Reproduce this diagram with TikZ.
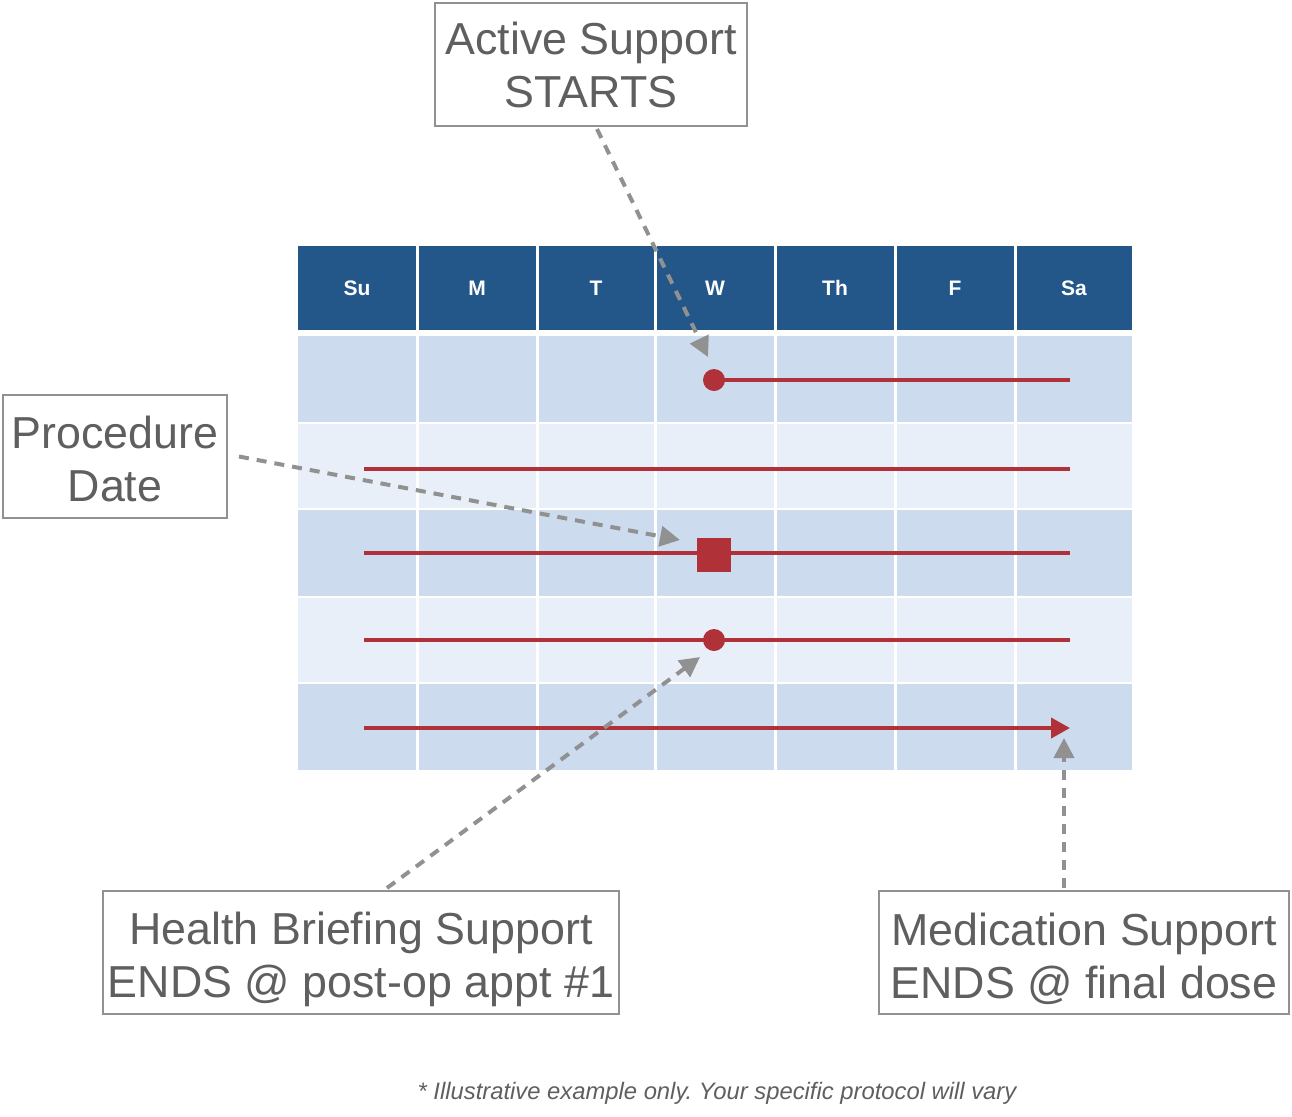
\documentclass[tikz,border=0pt]{standalone}
\usepackage{fontspec}
\setmainfont{Liberation Sans}
\usetikzlibrary{arrows.meta}
\definecolor{hdr}{RGB}{35,87,138}
\definecolor{rowdark}{RGB}{204,219,237}
\definecolor{rowlight}{RGB}{232,239,248}
\definecolor{redc}{RGB}{176,49,55}
\definecolor{grayc}{RGB}{145,145,145}
\definecolor{txtc}{RGB}{95,95,95}
\frenchspacing
\begin{document}
\begin{tikzpicture}[x=0.5pt,y=-0.5pt,
  daylbl/.style={text=white,font=\bfseries\fontsize{10.5}{12}\selectfont},
  redline/.style={draw=redc,line width=2pt},
  reddot/.style={circle,fill=redc,inner sep=0pt,minimum size=11pt},
  redsq/.style={rectangle,fill=redc,inner sep=0pt,minimum size=17pt},
  garrow/.style={draw=grayc,line width=2pt,dash pattern=on 5pt off 4pt,-{Triangle[length=10pt,width=10pt]}},
  labelbox/.style={draw=grayc,line width=1pt,fill=white,text=txtc,align=center,inner sep=0pt,
    minimum height=61.5pt,font=\fontsize{22.4}{26.5}\selectfont}
]
\useasboundingbox (0,0) rectangle (1292,1116);
% table
\fill[hdr] (298,246) rectangle (1132,330);
\fill[rowdark] (298,336) rectangle (1132,422);
\fill[rowlight] (298,424) rectangle (1132,508);
\fill[rowdark] (298,510) rectangle (1132,596);
\fill[rowlight] (298,598) rectangle (1132,682);
\fill[rowdark] (298,684) rectangle (1132,770);
\foreach \x in {417,537,655,775,895,1015} \draw[white,line width=1.5pt] (\x,246) -- (\x,771);
% day labels
\node[daylbl] (dSu) at (357,288) {Su};
\node[daylbl] (dM) at (477,288) {M};
\node[daylbl] (dT) at (596,288) {T};
\node[daylbl] (dW) at (715,288) {W};
\node[daylbl] (dTh) at (835,288) {Th};
\node[daylbl] (dF) at (955,288) {F};
\node[daylbl] (dSa) at (1074,288) {Sa};
% timeline rows
\coordinate (e1) at (1070,380);
\coordinate (a2) at (364,469);
\coordinate (b2) at (1070,469);
\coordinate (a3) at (364,553);
\coordinate (b3) at (1070,553);
\coordinate (a4) at (364,640);
\coordinate (b4) at (1070,640);
\coordinate (a5) at (364,728);
\coordinate (b5) at (1070,728);
\node[reddot] (start) at (714,380) {};
\draw[redline] (start.center) -- (e1);
\draw[redline] (a2) -- (b2);
\draw[redline] (a3) -- (b3);
\draw[redline] (a4) -- (b4);
\draw[redline,-{Triangle[length=9.5pt,width=10pt]}] (a5) -- (b5);
\node[redsq] (proc) at (714,554.5) {};
\node[reddot] (post) at (714,640) {};
% label boxes
\node[labelbox,minimum width=156pt] (act) at (591,64.5) {Active Support\\STARTS};
\node[labelbox,minimum width=112pt] (pdl) at (115,456.5) {\rule{0pt}{19pt}Procedure\\Date};
\node[labelbox,minimum width=258pt] (hbl) at (361,952.5) {\rule{0pt}{23pt}Health Briefing Support\\ENDS @ post-op appt \#1};
\node[labelbox,minimum width=205pt] (mdl) at (1084,952.5) {\rule{0pt}{23pt}Medication Support\\ENDS @ final dose};
% arrow tips
\coordinate (tA) at (708,357);
\coordinate (tP) at (680,540);
\coordinate (tH) at (700,657);
\coordinate (tM) at (1064,738);
\draw[garrow] ([xshift=3pt,yshift=-1pt]act.south) -- (tA);
\draw[garrow] ([xshift=5.5pt]pdl.east) -- (tP);
\draw[garrow] ([xshift=13pt,yshift=1pt]hbl.north) -- (tH);
\draw[garrow] ([xshift=-10pt,yshift=1pt]mdl.north) -- (tM);
% footnote
\node[text=txtc,font=\itshape\fontsize{11.9}{14}\selectfont] (note) at (717,1093) {* Illustrative example only. Your specific protocol will vary};
\end{tikzpicture}
\end{document}
